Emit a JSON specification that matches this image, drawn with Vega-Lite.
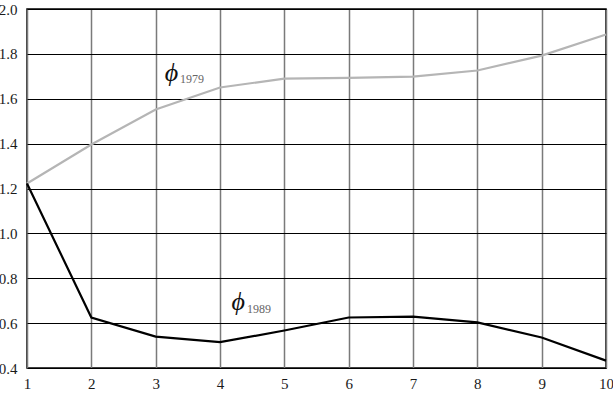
{
  "$schema": "https://vega.github.io/schema/vega-lite/v6.json",
  "autosize": "none",
  "width": 579,
  "height": 359,
  "padding": {"left": 27, "top": 9, "right": 7, "bottom": 40},
  "background": "white",
  "config": {
    "view": {"stroke": "black", "strokeWidth": 1.5}
  },
  "datasets": {
    "series": [
      {"k": 1, "phi": 1.222, "s": "1979"},
      {"k": 2, "phi": 1.396, "s": "1979"},
      {"k": 3, "phi": 1.552, "s": "1979"},
      {"k": 4, "phi": 1.650, "s": "1979"},
      {"k": 5, "phi": 1.690, "s": "1979"},
      {"k": 6, "phi": 1.693, "s": "1979"},
      {"k": 7, "phi": 1.699, "s": "1979"},
      {"k": 8, "phi": 1.726, "s": "1979"},
      {"k": 9, "phi": 1.792, "s": "1979"},
      {"k": 10, "phi": 1.886, "s": "1979"},
      {"k": 1, "phi": 1.222, "s": "1989"},
      {"k": 2, "phi": 0.625, "s": "1989"},
      {"k": 3, "phi": 0.540, "s": "1989"},
      {"k": 4, "phi": 0.515, "s": "1989"},
      {"k": 5, "phi": 0.567, "s": "1989"},
      {"k": 6, "phi": 0.625, "s": "1989"},
      {"k": 7, "phi": 0.629, "s": "1989"},
      {"k": 8, "phi": 0.603, "s": "1989"},
      {"k": 9, "phi": 0.536, "s": "1989"},
      {"k": 10, "phi": 0.433, "s": "1989"}
    ],
    "symbols": [
      {"k": 3.14, "phi": 1.677, "t": "ϕ"},
      {"k": 4.18, "phi": 0.660, "t": "ϕ"}
    ],
    "subs": [
      {"k": 3.38, "phi": 1.668, "t": "1979"},
      {"k": 4.42, "phi": 0.646, "t": "1989"}
    ]
  },
  "encoding": {
    "x": {"field": "k", "type": "quantitative", "scale": {"domain": [1, 10], "nice": false, "zero": false},
          "axis": {"title": null, "ticks": false, "domain": false, "labelFont": "Liberation Serif", "labelFontSize": 15, "labelColor": "#1a1a1a", "values": [1,2,3,4,5,6,7,8,9,10], "grid": true, "gridColor": "#7a7a7a", "gridWidth": 1.5, "gridOpacity": 1, "labelPadding": 8, "labelFlush": false}},
    "y": {"field": "phi", "type": "quantitative", "scale": {"domain": [0.4, 2.0], "nice": false, "zero": false},
          "axis": {"title": null, "ticks": false, "domain": false, "labelFont": "Liberation Serif", "labelFontSize": 15, "labelColor": "#1a1a1a", "values": [0.4,0.6,0.8,1.0,1.2,1.4,1.6,1.8,2.0], "format": ".1f", "grid": true, "gridColor": "#000000", "gridWidth": 1.2, "gridOpacity": 1, "labelPadding": 10, "labelFlush": false}}
  },
  "layer": [
    {
      "data": {"name": "series"},
      "mark": {"type": "line", "strokeWidth": 2.2},
      "encoding": {
        "detail": {"field": "s"},
        "color": {"field": "s", "type": "nominal", "scale": {"domain": ["1979", "1989"], "range": ["#b5b5b5", "#000000"]}, "legend": null}
      }
    },
    {
      "data": {"name": "symbols"},
      "mark": {"type": "text", "align": "left", "baseline": "alphabetic", "fontSize": 26, "fontStyle": "italic", "font": "Liberation Serif", "color": "#111"},
      "encoding": {"text": {"field": "t"}}
    },
    {
      "data": {"name": "subs"},
      "mark": {"type": "text", "align": "left", "baseline": "alphabetic", "fontSize": 12, "font": "Liberation Serif", "color": "#666666"},
      "encoding": {"text": {"field": "t"}}
    }
  ]
}
